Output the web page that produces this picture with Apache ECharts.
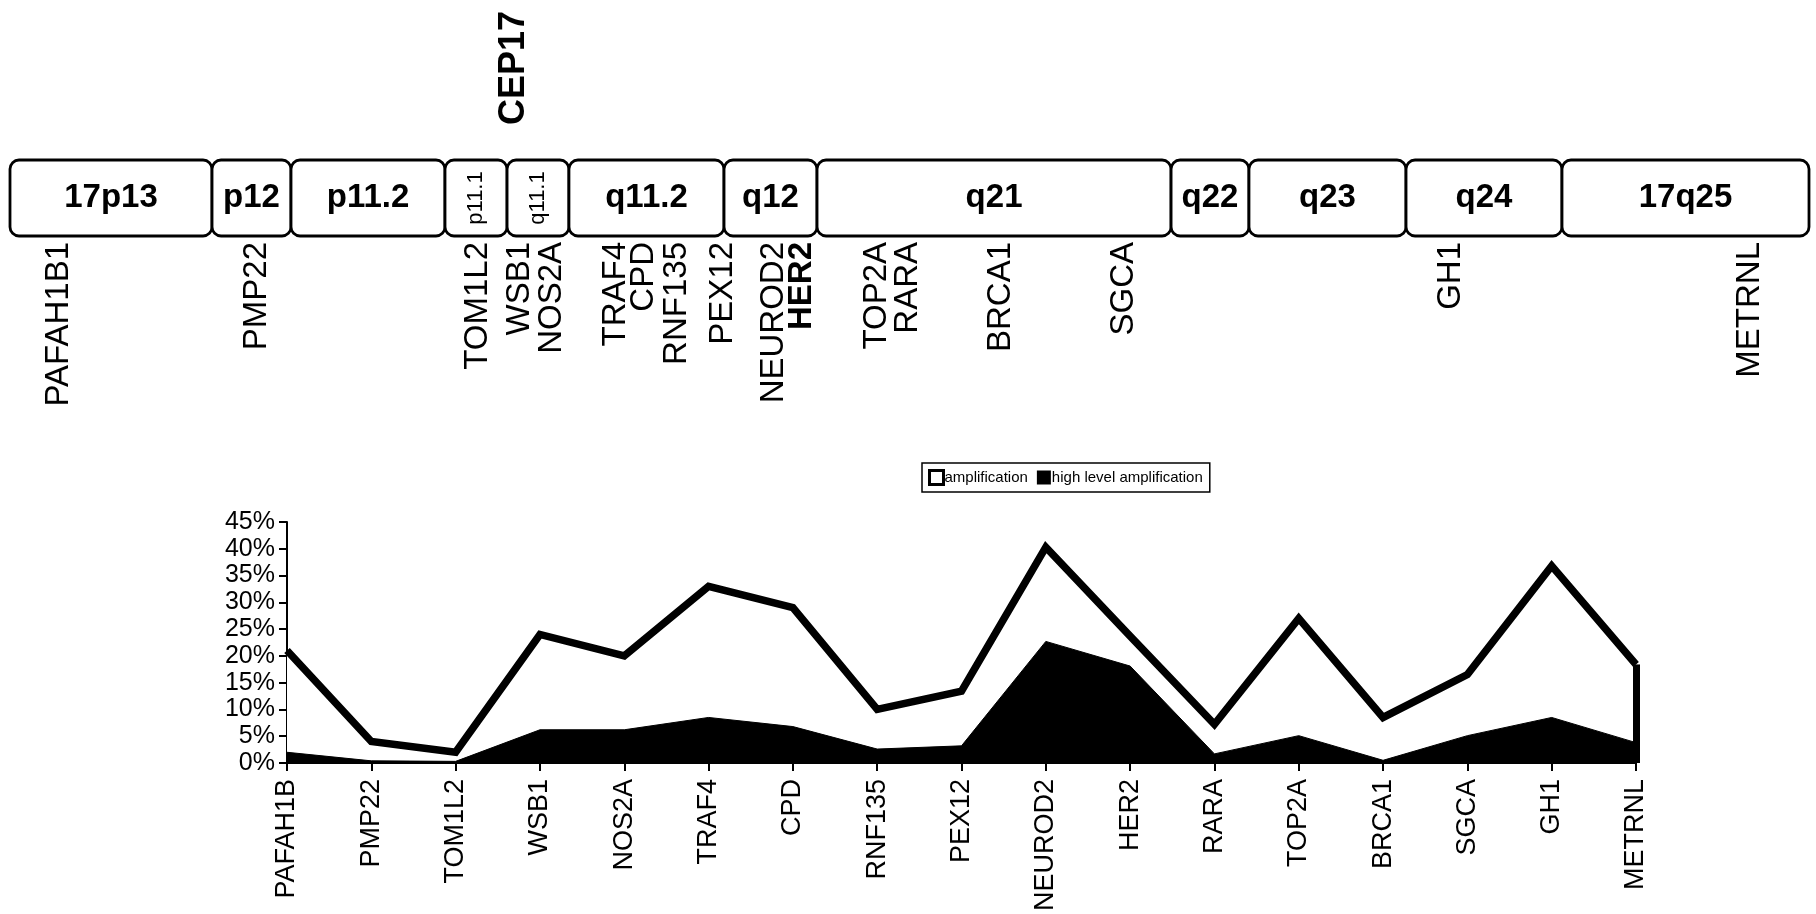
<!DOCTYPE html>
<html>
<head>
<meta charset="utf-8">
<script src="https://cdn.jsdelivr.net/npm/echarts@6/dist/echarts.min.js"></script>
<style>
html,body{margin:0;padding:0;background:#fff;}
#main{width:1816px;height:914px;}
</style>
</head>
<body>
<div id="main"></div>
<script>
// ---- Chromosome 17 ideogram (positions in % of chromosome length) ----
const bandNames = ['17p13', 'p12', 'p11.2', 'p11.1', 'q11.1', 'q11.2', 'q12', 'q21', 'q22', 'q23', 'q24', '17q25'];
const bandEdges = [0, 11.23, 15.62, 24.18, 27.63, 31.07, 39.69, 44.86, 64.54, 68.87, 77.60, 86.27, 100];
const smallBands = ['p11.1', 'q11.1'];
const mapGenes = ['PAFAH1B1', 'PMP22', 'TOM1L2', 'WSB1', 'NOS2A', 'TRAF4', 'CPD', 'RNF135', 'PEX12', 'NEUROD2', 'HER2', 'TOP2A', 'RARA', 'BRCA1', 'SGCA', 'GH1', 'METRNL'];
const mapGenePos = [2.72, 13.73, 26.01, 28.35, 30.11, 33.69, 35.21, 37.08, 39.61, 42.47, 44.01, 48.18, 49.92, 55.09, 61.92, 80.10, 96.70];
const boldGenes = ['HER2'];
const centromereProbe = 'CEP17';
const centromerePos = 28.0;

// ---- Amplification frequencies (%) ----
const genes = ['PAFAH1B', 'PMP22', 'TOM1L2', 'WSB1', 'NOS2A', 'TRAF4', 'CPD', 'RNF135', 'PEX12', 'NEUROD2', 'HER2', 'RARA', 'TOP2A', 'BRCA1', 'SGCA', 'GH1', 'METRNL'];
const amplification = [21, 4, 2, 24, 20, 33, 29, 10, 13.4, 40.3, 23.7, 7.2, 27, 8.5, 16.5, 36.8, 18.4];
const highLevelAmplification = [2, 0.4, 0.3, 6.2, 6.2, 8.5, 6.8, 2.6, 3.2, 22.7, 18.1, 1.7, 5.1, 0.5, 5.1, 8.5, 3.8];
const yMin = 0, yMax = 45, yStep = 5;

const FONT = "'Liberation Sans', Arial, Helvetica, sans-serif";
const chart = echarts.init(document.getElementById('main'), null, {renderer: 'canvas'});

const bandData = bandNames.map((n, i) => [bandEdges[i], bandEdges[i + 1], n]);
const geneData = mapGenes.map((g, i) => [mapGenePos[i], g]);

const option = {
  backgroundColor: '#fff',
  animation: false,
  textStyle: {fontFamily: FONT, color: '#000'},
  legend: {
    left: 922, top: 463,
    orient: 'horizontal',
    itemWidth: 14, itemHeight: 14, itemGap: 9,
    padding: [6, 7, 6, 6],
    borderColor: '#000', borderWidth: 1.5,
    textStyle: {fontFamily: FONT, fontSize: 15, color: '#000', padding: [0, 0, 0, -4]},
    data: [
      {name: 'amplification', icon: 'rect', itemStyle: {color: '#fff', borderColor: '#000', borderWidth: 3}},
      {name: 'high level amplification', icon: 'rect', itemStyle: {color: '#000', borderWidth: 0}}
    ]
  },
  grid: [
    {left: 10, right: 7, top: 160, height: 76},
    {left: 287, right: 180, top: 522, bottom: 150}
  ],
  xAxis: [
    {gridIndex: 0, type: 'value', min: 0, max: 100, show: false},
    {
      gridIndex: 1, type: 'category', data: genes, boundaryGap: false,
      axisLine: {show: true, lineStyle: {color: '#000', width: 2}},
      axisTick: {show: true, length: 8, lineStyle: {color: '#000', width: 2}, alignWithLabel: true},
      axisLabel: {rotate: 90, interval: 0, margin: 16, fontSize: 27, color: '#000', fontFamily: FONT},
      splitLine: {show: false}
    }
  ],
  yAxis: [
    {gridIndex: 0, type: 'value', min: 0, max: 1, show: false},
    {
      gridIndex: 1, type: 'value', min: yMin, max: yMax, interval: yStep,
      axisLine: {show: true, lineStyle: {color: '#000', width: 2}},
      axisTick: {show: true, length: 8, lineStyle: {color: '#000', width: 2}},
      axisLabel: {formatter: '{value}%', fontSize: 25, margin: 12, color: '#000', fontFamily: FONT},
      splitLine: {show: false}
    }
  ],
  series: [
    {
      name: 'bands', type: 'custom', xAxisIndex: 0, yAxisIndex: 0, silent: true,
      data: bandData, encode: {x: [0, 1]},
      renderItem: function (params, api) {
        const p0 = api.coord([api.value(0), 1]);
        const p1 = api.coord([api.value(1), 0]);
        const name = bandData[params.dataIndex][2];
        const cx = (p0[0] + p1[0]) / 2, cy = (p0[1] + p1[1]) / 2;
        const small = smallBands.indexOf(name) >= 0;
        return {
          type: 'group',
          children: [
            {type: 'rect', shape: {x: p0[0], y: p0[1], width: p1[0] - p0[0], height: p1[1] - p0[1], r: 9},
             style: {fill: '#fff', stroke: '#000', lineWidth: 2.8}},
            small ? {type: 'text', x: cx, y: cy, rotation: Math.PI / 2,
               style: {text: name, font: '22px ' + FONT, fill: '#000', align: 'center', verticalAlign: 'middle'}}
                  : {type: 'text', x: cx, y: cy,
               style: {text: name, font: 'bold 33px ' + FONT, fill: '#000', align: 'center', verticalAlign: 'middle'}}
          ]
        };
      }
    },
    {
      name: 'map genes', type: 'custom', xAxisIndex: 0, yAxisIndex: 0, silent: true,
      data: geneData, encode: {x: 0},
      renderItem: function (params, api) {
        const p = api.coord([api.value(0), 0]);
        const g = geneData[params.dataIndex][1];
        const bold = boldGenes.indexOf(g) >= 0;
        return {type: 'text', x: p[0], y: p[1] + 6, rotation: Math.PI / 2,
          style: {text: g, font: (bold ? 'bold ' : '') + '33px ' + FONT, fill: '#000', align: 'right', verticalAlign: 'middle'}};
      }
    },
    {
      name: 'probe', type: 'custom', xAxisIndex: 0, yAxisIndex: 0, silent: true,
      data: [[centromerePos, 1]], encode: {x: 0},
      renderItem: function (params, api) {
        const p = api.coord([api.value(0), 1]);
        return {type: 'text', x: p[0], y: p[1] - 35, rotation: Math.PI / 2,
          style: {text: centromereProbe, font: 'bold 36px ' + FONT, fill: '#000', align: 'left', verticalAlign: 'middle'}};
      }
    },
    {
      name: 'amplification', type: 'line', xAxisIndex: 1, yAxisIndex: 1,
      data: amplification, symbol: 'none', z: 2,
      lineStyle: {color: '#000', width: 7.5, join: 'miter'},
      itemStyle: {color: '#fff', borderColor: '#000'},
      areaStyle: {color: '#fff', opacity: 1},
      markLine: {
        silent: true, symbol: ['none', 'none'], label: {show: false},
        lineStyle: {color: '#000', width: 7, type: 'solid'},
        data: [[{coord: [genes[genes.length - 1], 0]}, {coord: [genes[genes.length - 1], amplification[amplification.length - 1]]}]]
      }
    },
    {
      name: 'high level amplification', type: 'line', xAxisIndex: 1, yAxisIndex: 1,
      data: highLevelAmplification, symbol: 'none', z: 3,
      lineStyle: {color: '#000', width: 1},
      itemStyle: {color: '#000'},
      areaStyle: {color: '#000', opacity: 1}
    }
  ]
};
chart.setOption(option);
</script>
</body>
</html>
